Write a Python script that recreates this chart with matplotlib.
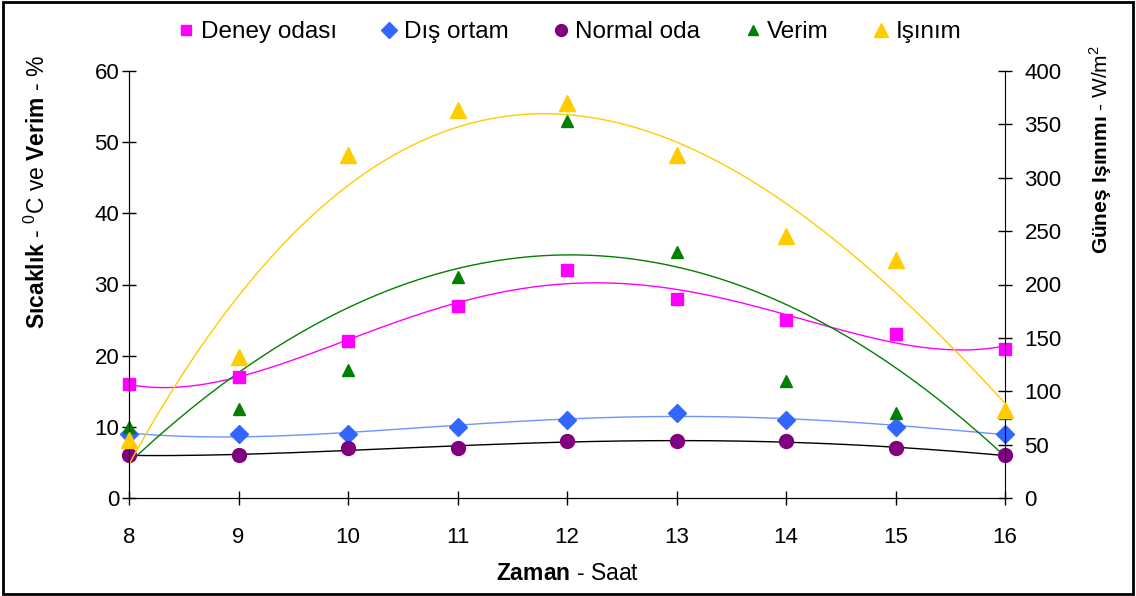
import numpy as np
import matplotlib
matplotlib.use('Agg')
from matplotlib import pyplot as plt
from matplotlib.patches import Rectangle

plt.rcParams['font.family'] = ['Liberation Sans', 'DejaVu Sans']
plt.rcParams['mathtext.fontset'] = 'custom'
plt.rcParams['mathtext.rm'] = 'Liberation Sans'
plt.rcParams['mathtext.bf'] = 'Liberation Sans:bold'

saat = [8, 9, 10, 11, 12, 13, 14, 15, 16]
deney_odasi = [16, 17, 22, 27, 32, 28, 25, 23, 21]
dis_ortam = [9, 9, 9, 10, 11, 12, 11, 10, 9]
normal_oda = [6, 6, 7, 7, 8, 8, 8, 7, 6]
verim = [10, 12.5, 18, 31, 53, 34.5, 16.5, 12, 12]
isinim = [54, 132, 321, 363, 370, 321, 245, 223, 82]

fig = plt.figure(figsize=(11.36, 5.96), dpi=100)
ax = fig.add_axes([129/1136, 1 - 498/596, (1005-129)/1136, (498-71)/596])
ax2 = ax.twinx()

xx = np.linspace(8, 16, 200)

# Excel-style polynomial trend lines
def trend(a, y, deg, color):
    p = np.polyfit(saat, y, deg)
    a.plot(xx, np.polyval(p, xx), color=color, lw=1, zorder=2)

trend(ax, deney_odasi, 4, '#ff00ff')
trend(ax, dis_ortam, 4, '#6f93ff')
trend(ax, normal_oda, 4, 'black')
trend(ax, verim, 2, 'green')
trend(ax2, isinim, 3, '#ffcc00')

h1, = ax.plot(saat, deney_odasi, 's', color='#ff00ff', ms=8, ls='none', label='Deney odası', zorder=3, clip_on=False)
h2, = ax.plot(saat, dis_ortam, 'D', color='#3366ff', ms=9, ls='none', label='Dış ortam', zorder=3, clip_on=False)
h3, = ax.plot(saat, normal_oda, 'o', color='#800080', ms=10, ls='none', label='Normal oda', zorder=3, clip_on=False)
h4, = ax.plot(saat, verim, '^', color='green', ms=9, ls='none', label='Verim', zorder=3, clip_on=False)
h5, = ax2.plot(saat, isinim, '^', color='#ffcc00', ms=12, ls='none', label='Işınım', zorder=3, clip_on=False)

ax.set_xlim(8, 16)
ax.set_ylim(0, 60)
ax2.set_ylim(0, 400)
ax.set_yticks(range(0, 61, 10))
ax2.set_yticks(range(0, 401, 50))
ax.set_xticks(saat)

for a in (ax, ax2):
    a.spines['top'].set_visible(False)
    a.tick_params(direction='inout', length=10, width=1, labelsize=16)
    a.set_facecolor('none')
ax.spines['right'].set_visible(False)
ax.tick_params(axis='x', pad=16)
ax.tick_params(axis='y', pad=2)
ax2.tick_params(axis='y', pad=9)

ax.set_xlabel(r'$\mathbf{Zaman}$ - Saat', fontsize=16.5, labelpad=10)
ax.set_ylabel(r'$\mathbf{Sıcaklık}$ - $^0$C ve $\mathbf{Verim}$ - %', fontsize=16.5)
ax2.set_ylabel(r'$\mathbf{Güneş\ Işınımı}$ - W/m$^2$', fontsize=15)
ax.yaxis.set_label_coords(-0.09, 0.717)
ax2.yaxis.set_label_coords(1.094, 0.817)

fig.legend(handles=[h1, h2, h3, h4, h5], loc='center', bbox_to_anchor=(0.5, 1 - 32/596),
           ncol=5, frameon=False, fontsize=17.5, handletextpad=0.1, columnspacing=1.65,
           handlelength=1.0, markerscale=0.85)

fig.patches.append(Rectangle((0.003, 0.004), 0.994, 0.992, transform=fig.transFigure,
                             fill=False, edgecolor='black', lw=2))

fig.savefig('out.png', dpi=100)
